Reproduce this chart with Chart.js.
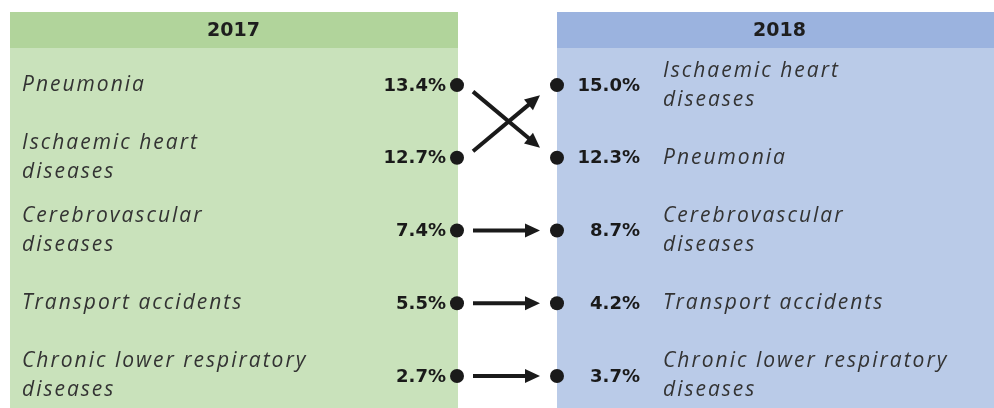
<!DOCTYPE html>
<html>
<head>
<meta charset="utf-8">
<script src="https://cdn.jsdelivr.net/npm/chart.js@4"></script>
<style>
  body { margin: 0; background: #fff; }
  #wrap { width: 994px; height: 408px; position: relative; }
</style>
</head>
<body>
<div id="wrap"><canvas id="chart"></canvas></div>
<script>
// Leading causes of death, share of all deaths
const years = ['2017', '2018'];
const causes2017 = [
  ['Pneumonia'],
  ['Ischaemic heart', 'diseases'],
  ['Cerebrovascular', 'diseases'],
  ['Transport accidents'],
  ['Chronic lower respiratory', 'diseases']
];
const share2017 = [13.4, 12.7, 7.4, 5.5, 2.7];
const causes2018 = [
  ['Ischaemic heart', 'diseases'],
  ['Pneumonia'],
  ['Cerebrovascular', 'diseases'],
  ['Transport accidents'],
  ['Chronic lower respiratory', 'diseases']
];
const share2018 = [15.0, 12.3, 8.7, 4.2, 3.7];

const labelFont = 'italic 400 21px "Open Sans"';
const valueFont = 'bold 18px "DejaVu Sans"';

// where each 2017 cause ended up in 2018
const moves = causes2017.map((c, i) => ({
  from: i,
  to: causes2018.findIndex(d => d.join(' ') === c.join(' '))
}));

const panels = {
  id: 'panels',
  beforeDatasetsDraw(chart) {
    const ctx = chart.ctx;
    const xs = chart.scales.x, ys = chart.scales.y;
    const xl = xs.getPixelForValue(0), xr = xs.getPixelForValue(1);
    const top = 12, head = 48, bottom = chart.height;

    ctx.save();
    // panels
    ctx.fillStyle = '#c9e2bb';
    ctx.fillRect(10, head, xl + 1 - 10, bottom - head);
    ctx.fillStyle = '#b1d49b';
    ctx.fillRect(10, top, xl + 1 - 10, head - top);
    ctx.fillStyle = '#bacbe8';
    ctx.fillRect(xr, head, chart.width - xr, bottom - head);
    ctx.fillStyle = '#9bb3df';
    ctx.fillRect(xr, top, chart.width - xr, head - top);

    // year headers
    ctx.fillStyle = '#1e1e1e';
    ctx.font = 'bold 19px "DejaVu Sans"';
    ctx.textAlign = 'center';
    ctx.textBaseline = 'middle';
    ctx.fillText(years[0], (10 + xl) / 2, (top + head) / 2 + 1);
    ctx.fillText(years[1], (xr + chart.width) / 2 + 4, (top + head) / 2 + 1);

    // cause names and values
    const drawLines = (lines, x, y, align) => {
      ctx.font = labelFont;
      ctx.letterSpacing = '2px';
      ctx.fillStyle = '#333333';
      ctx.textAlign = align;
      const h = 29;
      lines.forEach((t, k) => {
        ctx.fillText(t, x, y + (k - (lines.length - 1) / 2) * h);
      });
      ctx.letterSpacing = '0px';
    };
    causes2017.forEach((c, i) => {
      const y = ys.getPixelForValue(i);
      drawLines(c, 22, y, 'left');
      ctx.font = valueFont;
      ctx.fillStyle = '#1a1a1a';
      ctx.textAlign = 'right';
      ctx.fillText(share2017[i].toFixed(1) + '%', xl - 11, y + 1);
    });
    causes2018.forEach((c, i) => {
      const y = ys.getPixelForValue(i);
      drawLines(c, 663, y, 'left');
      ctx.font = valueFont;
      ctx.fillStyle = '#1a1a1a';
      ctx.textAlign = 'right';
      ctx.fillText(share2018[i].toFixed(1) + '%', 640, y + 1);
    });

    // arrows
    ctx.strokeStyle = '#1a1a1a';
    ctx.fillStyle = '#1a1a1a';
    ctx.lineWidth = 4;
    moves.forEach(m => {
      const y0 = ys.getPixelForValue(m.from), y1 = ys.getPixelForValue(m.to);
      const sx = xl + (xr - xl) * 0.16, ex = xl + (xr - xl) * 0.83;
      const sy = y0 + (y1 - y0) * 0.09, ey = y0 + (y1 - y0) * 0.86;
      const ang = Math.atan2(ey - sy, ex - sx);
      const len = 15, half = 7;
      const bx = ex - Math.cos(ang) * len, by = ey - Math.sin(ang) * len;
      ctx.beginPath();
      ctx.moveTo(sx, sy);
      ctx.lineTo(bx + Math.cos(ang) * 2, by + Math.sin(ang) * 2);
      ctx.stroke();
      ctx.beginPath();
      ctx.moveTo(ex, ey);
      ctx.lineTo(bx - Math.sin(ang) * half, by + Math.cos(ang) * half);
      ctx.lineTo(bx + Math.sin(ang) * half, by - Math.cos(ang) * half);
      ctx.closePath();
      ctx.fill();
    });
    ctx.restore();
  }
};

new Chart(document.getElementById('chart'), {
  type: 'scatter',
  data: {
    datasets: [
      {
        label: years[0],
        data: share2017.map((v, i) => ({ x: 0, y: i, v })),
        pointRadius: 7,
        pointBackgroundColor: '#1a1a1a',
        pointBorderWidth: 0
      },
      {
        label: years[1],
        data: share2018.map((v, i) => ({ x: 1, y: i, v })),
        pointRadius: 7,
        pointBackgroundColor: '#1a1a1a',
        pointBorderWidth: 0
      }
    ]
  },
  options: {
    responsive: true,
    maintainAspectRatio: false,
    animation: false,
    layout: { padding: 0, autoPadding: false },
    plugins: { legend: { display: false }, tooltip: { enabled: false } },
    scales: {
      x: { type: 'linear', display: false, min: -4.57, max: 5.37 },
      y: { type: 'linear', display: false, reverse: true, min: -1.17, max: 4.44 }
    }
  },
  plugins: [panels]
});
</script>
</body>
</html>
